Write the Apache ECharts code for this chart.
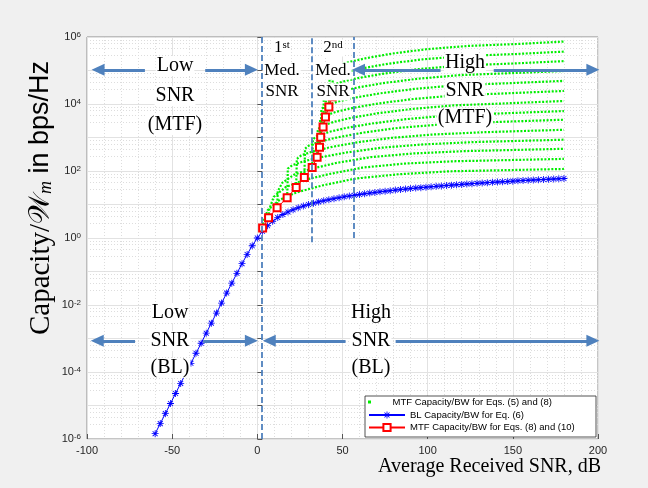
<!DOCTYPE html>
<html>
<head>
<meta charset="utf-8">
<script src="https://cdn.jsdelivr.net/npm/echarts@6/dist/echarts.min.js"></script>
<style>
  html, body { margin: 0; padding: 0; background: #f0f0f0; }
  #chart { width: 648px; height: 488px; }
</style>
</head>
<body>
<div id="chart"></div>
<script>
// BL capacity (blue stars), SNR in dB
const blX = [-60,-57,-54,-51,-48,-45,-42,-39,-36,-33,-30,-27,-24,-21,-18,-15,-12,-9,-6,-3,
  0,3,6,9,12,15,18,21,24,27,30,33,36,39,42,45,48,51,54,57,60,63,66,69,72,75,78,81,84,87,
  90,93,96,99,102,105,108,111,114,117,120,123,126,129,132,135,138,141,144,147,150,153,156,
  159,162,165,168,171,174,177,180];
const blY = [1.443e-6,2.878e-6,5.743e-6,1.146e-5,2.286e-5,4.562e-5,9.102e-5,1.816e-4,3.623e-4,7.227e-4,
  1.442e-3,2.875e-3,5.732e-3,0.01141,0.02268,0.04486,0.08826,0.1711,0.3233,0.5861,
  1,1.583,2.316,3.161,4.075,5.028,6.002,6.988,7.978,8.972,9.967,10.96,11.96,12.96,13.95,14.95,
  15.95,16.94,17.94,18.94,19.93,20.93,21.93,22.92,23.92,24.91,25.91,26.91,27.90,28.90,
  29.90,30.89,31.89,32.89,33.88,34.88,35.88,36.87,37.87,38.87,39.86,40.86,41.86,42.85,43.85,
  44.85,45.84,46.84,47.84,48.83,49.83,50.83,51.82,52.82,53.82,54.81,55.81,56.81,57.80,58.80,59.79];

// MTF capacity, Eqs. (8) and (10) (red squares)
const redX = [3.1, 6.6, 11.6, 17.5, 22.8, 27.6, 32.2, 35.1, 36.5, 37.2, 38.6, 40, 42, 44];
const redY = [2, 4, 8, 16, 32, 64, 128, 256, 512, 1024, 2048, 4096, 8192, 16384];

// MTF capacity, Eqs. (5) and (8) (green dotted curves)
const mtf1 = [[3.1,2],[3.5,3],[6.1,6.8],[13.1,13.8],[23.1,23],[38.1,37],[58.1,60],[83.1,80],[113.1,98],[180,115]];
const mtf2 = [[6.6,4],[7,7.2],[9.6,16.8],[16.6,33],[26.6,52],[41.6,80],[61.6,126],[86.6,167],[116.6,196],[180,230]];
const mtf3 = [[11.6,8],[12,25],[14.6,44],[21.6,78],[31.6,116],[46.6,175],[66.6,259],[91.6,334],[121.6,392],[180,460]];
const mtf4 = [[17.5,16],[17.9,118],[20.5,149],[27.5,197],[37.5,259],[52.5,358],[72.5,494],[97.5,622],[127.5,731],[180,860]];
const mtf5 = [[22.8,32],[23.2,230],[25.8,294],[32.8,387],[42.8,512],[57.8,704],[77.8,966],[102.8,1226],[132.8,1437],[180,1700]];
const mtf6 = [[27.6,64],[28,461],[30.6,589],[37.6,774],[47.6,1024],[62.6,1408],[82.6,1933],[107.6,2451],[137.6,2874],[180,3400]];
const mtf7 = [[32.2,128],[32.6,883],[35.2,1114],[42.2,1472],[52.2,1933],[67.2,2611],[87.2,3520],[112.2,4544],[142.2,5210],[180,6160]];
const mtf8 = [[35.1,256],[35.5,1766],[38.1,2227],[45.1,2944],[55.1,3866],[70.1,5222],[90.1,7040],[115.1,9088],[145.1,10420],[180,12300]];
const mtf9 = [[36.5,512],[36.9,3533],[39.5,4454],[46.5,5888],[56.5,7731],[71.5,10445],[91.5,14080],[116.5,18176],[146.5,20840],[180,24500]];
const mtf10 = [[37.2,1024],[37.6,7066],[40.2,8909],[47.2,11776],[57.2,15462],[72.2,20890],[92.2,28160],[117.2,36352],[147.2,41680],[180,49000]];
const mtf11 = [[38.6,2048],[39,14130],[41.6,17818],[48.6,23552],[58.6,30925],[73.6,41779],[93.6,56320],[118.6,72704],[148.6,83360],[180,96600]];
const mtf12 = [[40,4096],[40.4,27850],[43,34800],[50,46300],[60,60600],[75,81900],[95,110600],[120,141300],[150,161800],[180,190500]];
const mtf13 = [[42,8192],[42.4,54900],[45,68000],[52,90100],[62,117100],[77,159700],[97,215400],[122,271200],[152,311300],[180,366200]];
const mtf14 = [[44,16384],[44.4,109800],[47,136000],[54,180200],[64,234300],[79,319500],[99,430900],[124,542300],[154,622600],[180,732400]];

// region boundaries (dashed) and arrows
const boundX = [2.4, 32.2, 56.6];
const arrowTopY = 1.05e5, arrowBotY = 8.5e-4;

const MTF_NAME = 'MTF Capacity/BW for Eqs. (5) and (8)';
const BL_NAME = 'BL Capacity/BW for Eq. (6)';
const RED_NAME = 'MTF Capacity/BW for Eqs. (8) and (10)';
const GREEN = '#00ee00';
const ARROW = '#4f81bd';
const SERIF = '"Liberation Serif", "Times New Roman", serif';
const SANS = '"Liberation Sans", Arial, Helvetica, sans-serif';

const STAR = 'path://M-5,-0.6L5,-0.6L5,0.6L-5,0.6Z M-0.6,-5L0.6,-5L0.6,5L-0.6,5Z ' +
  'M-3.96,-3.11L-3.11,-3.96L3.96,3.11L3.11,3.96Z M3.11,-3.96L3.96,-3.11L-3.11,3.96L-3.96,3.11Z';

var chart = echarts.init(document.getElementById('chart'));

const greenSeries = [mtf1, mtf2, mtf3, mtf4, mtf5, mtf6, mtf7, mtf8, mtf9, mtf10, mtf11, mtf12, mtf13, mtf14]
  .map(d => ({
    name: MTF_NAME, type: 'line', data: d, symbol: 'none', silent: true, z: 2,
    itemStyle: { color: GREEN },
    lineStyle: { color: GREEN, width: 2.2, type: [2, 1.6], cap: 'butt' }
  }));

// simple text helper for the annotations
function txt(text, x, y, size, rich) {
  return {
    type: 'text', x: x, y: y, z: 100, silent: true,
    style: {
      text: text, fill: '#000', font: size + 'px ' + SERIF,
      align: 'center', verticalAlign: 'middle',
      backgroundColor: '#fff', padding: [0, 1], rich: rich
    }
  };
}
const supRich = {
  n: { fontSize: 17, fontFamily: SERIF, fill: '#000' },
  s: { fontSize: 11, fontFamily: SERIF, fill: '#000', verticalAlign: 'top' }
};

chart.setOption({
  animation: false,
  backgroundColor: '#f0f0f0',
  grid: { left: 87, right: 50, top: 37, bottom: 49, show: true, backgroundColor: '#fff', borderColor: '#8a8a8a', borderWidth: 1 },
  xAxis: {
    type: 'value', min: -100, max: 200, interval: 50,
    axisLine: { show: false },
    axisTick: { inside: true, length: 5, lineStyle: { color: '#555' } },
    axisLabel: { color: '#262626', fontSize: 11, fontFamily: SANS, margin: 6 },
    splitLine: { lineStyle: { color: '#e2e2e2', width: 1 } },
    minorTick: { show: false, splitNumber: 5 },
    minorSplitLine: { show: true, lineStyle: { color: '#dddddd', type: [1, 2] } }
  },
  yAxis: {
    type: 'log', logBase: 10, min: 1e-6, max: 1e6, interval: 1, splitNumber: 12,
    axisLine: { show: false },
    axisTick: { inside: true, length: 5, lineStyle: { color: '#555' } },
    axisLabel: {
      fontFamily: SANS, color: '#262626', margin: 6,
      formatter: function (v) {
        const e = Math.round(Math.log10(v));
        if (e % 2 !== 0) return '';
        return '{b|10}{s|' + e + '}';
      },
      rich: {
        b: { fontSize: 11, color: '#262626', fontFamily: SANS },
        s: { fontSize: 8, color: '#262626', fontFamily: SANS, verticalAlign: 'top', padding: [0, 0, 5, 0] }
      }
    },
    splitLine: { lineStyle: { color: '#e2e2e2', width: 1 } },
    minorTick: { show: false, splitNumber: 5 },
    minorSplitLine: { show: true, lineStyle: { color: '#dddddd', type: [1, 2] } }
  },
  legend: [
    {
      data: [{ name: MTF_NAME, icon: 'path://M0,0h1v1h-1z' }],
      left: 368, top: 397, orient: 'vertical', padding: 0,
      itemWidth: 36, itemHeight: 3, selectedMode: false, z: 60,
      textStyle: { fontSize: 9.5, fontFamily: SANS, color: '#000' }
    },
    {
      data: [BL_NAME, RED_NAME],
      left: 368, top: 410, orient: 'vertical', padding: 0, itemGap: 2.5,
      itemWidth: 36, itemHeight: 9, selectedMode: false, z: 60,
      textStyle: { fontSize: 9.5, fontFamily: SANS, color: '#000' }
    }
  ],
  graphic: [
    { type: 'rect', z: 50, silent: true, shape: { x: 365, y: 396, width: 231, height: 41 },
      style: { fill: '#fff', stroke: '#262626', lineWidth: 0.8 } },
    txt('Low', 175, 66, 20), txt('SNR', 175, 96, 20), txt('(MTF)', 175, 125, 20),
    txt('{n|1}{s|st}', 282, 48, 17, supRich), txt('Med.', 282, 71, 17), txt('SNR', 282, 92, 17),
    txt('{n|2}{s|nd}', 333, 48, 17, supRich), txt('Med.', 333, 71, 17), txt('SNR', 333, 92, 17),
    txt('High', 465, 63, 20), txt('SNR', 465, 91, 20), txt('(MTF)', 465, 118, 20),
    txt('Low', 170, 313, 20), txt('SNR', 170, 341, 20), txt('(BL)', 170, 368, 20),
    txt('High', 371, 313, 20), txt('SNR', 371, 341, 20), txt('(BL)', 371, 368, 20),
    {
      type: 'text', x: 601, y: 467, z: 100, silent: true,
      style: { text: 'Average Received SNR, dB', fill: '#000', font: '20px ' + SERIF, align: 'right', verticalAlign: 'middle' }
    },
    {
      type: 'text', x: 41, y: 198, rotation: Math.PI / 2, z: 100, silent: true,
      style: {
        text: '{c|Capacity/}{w|\u{1D4B2}}{m|m}{h| in bps/Hz}', align: 'center', verticalAlign: 'middle',
        rich: {
          c: { fontSize: 29, fontFamily: SERIF, fill: '#000' },
          w: { fontSize: 29, fontFamily: '"DejaVu Sans", "Noto Sans", serif', fill: '#000' },
          m: { fontSize: 18, fontFamily: SERIF, fontStyle: 'italic', fill: '#000', verticalAlign: 'bottom' },
          h: { fontSize: 27, fontFamily: SANS, fill: '#000' }
        }
      }
    }
  ],
  series: greenSeries.concat([
    {
      name: BL_NAME, type: 'line', data: blX.map((x, i) => [x, blY[i]]),
      symbol: STAR, symbolSize: 7, showAllSymbol: true, silent: true, z: 3,
      itemStyle: { color: '#0000ff' }, lineStyle: { color: '#0000ff', width: 1 }
    },
    {
      name: RED_NAME, type: 'line', data: redX.map((x, i) => [x, redY[i]]),
      symbol: 'emptyRect', symbolSize: 7, silent: true, z: 4,
      itemStyle: { color: '#ff0000', borderWidth: 1 }, lineStyle: { color: '#ff0000', width: 1 }
    },
    {
      // dashed region boundaries
      type: 'line', data: [], silent: true, z: 5,
      markLine: {
        silent: true, symbol: ['none', 'none'], label: { show: false },
        lineStyle: { color: ARROW, width: 1.8, type: [6, 3] },
        data: [
          [{ coord: [boundX[0], 1e-6] }, { coord: [boundX[0], 1e6] }],
          [{ coord: [boundX[1], 0.75] }, { coord: [boundX[1], 1e6] }],
          [{ coord: [boundX[2], 1.0] }, { coord: [boundX[2], 1e6] }]
        ]
      }
    },
    {
      // region arrows, head at the second point
      type: 'line', data: [], silent: true, z: 6,
      markLine: {
        silent: true, symbol: ['none', 'triangle'], symbolSize: [12, 13], label: { show: false },
        lineStyle: { color: ARROW, width: 3, type: 'solid' },
        data: [
          [{ coord: [-66, arrowTopY] }, { coord: [-93.5, arrowTopY] }],
          [{ coord: [-30.6, arrowTopY] }, { coord: [-3.5, arrowTopY] }],
          [{ coord: [107.6, arrowTopY] }, { coord: [59.4, arrowTopY] }],
          [{ coord: [138.8, arrowTopY] }, { coord: [197, arrowTopY] }],
          [{ coord: [-71.8, arrowBotY] }, { coord: [-94, arrowBotY] }],
          [{ coord: [-31.8, arrowBotY] }, { coord: [-3.5, arrowBotY] }],
          [{ coord: [51.8, arrowBotY] }, { coord: [7, arrowBotY] }],
          [{ coord: [81.2, arrowBotY] }, { coord: [197, arrowBotY] }]
        ]
      }
    }
  ])
});
</script>
</body>
</html>
